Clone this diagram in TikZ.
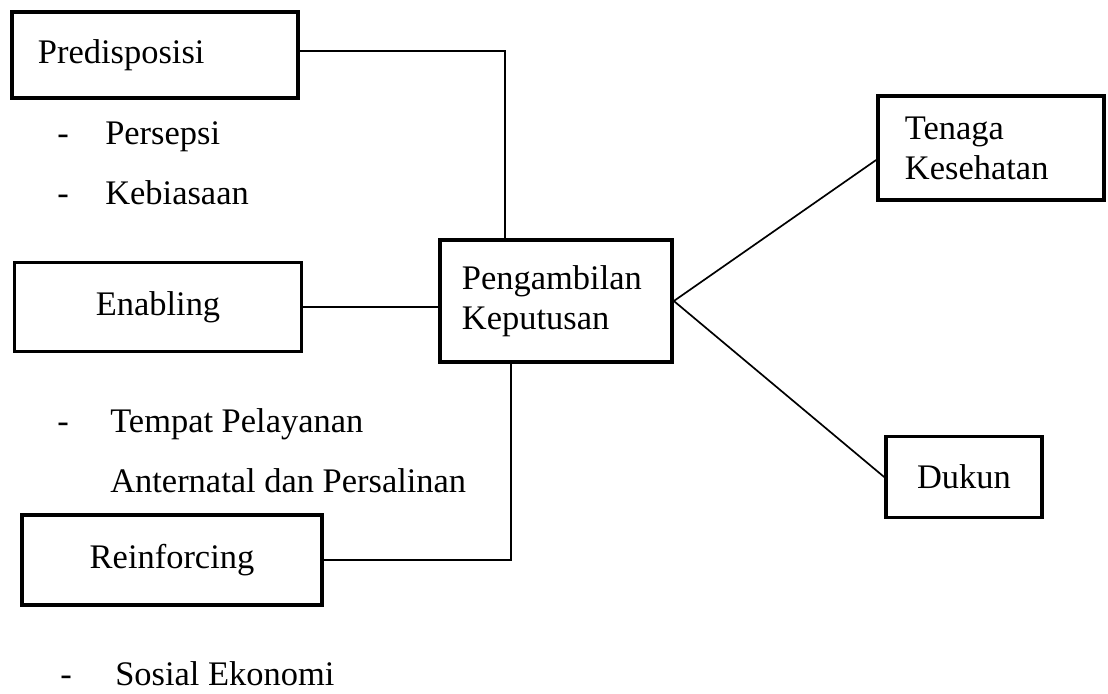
\documentclass[tikz,border=0pt]{standalone}
\usepackage{fontspec}
\setmainfont{Liberation Serif}
\usetikzlibrary{calc}
\tikzset{
  box/.style={draw, line width=2.6pt, inner ysep=0pt, font=\fontsize{24.5}{28.5}\selectfont},
  lbl/.style={anchor=base west, inner sep=0pt, font=\fontsize{24.5}{28.5}\selectfont},
  conn/.style={line width=1.2pt}
}

\begin{document}
\begin{tikzpicture}[x=0.025cm, y=-0.025cm]
    \useasboundingbox (0,0) rectangle (1108,694);

    % LEFT: factor boxes
    \node[box, minimum width=7.15cm, minimum height=2.15cm, text width=5.85cm, inner xsep=0.65cm, align=left] (pre) at (155,55) {Predisposisi};
    \node[box, minimum width=7.18cm, minimum height=2.22cm, align=center] (enb) at (158,307) {Enabling};
    \node[box, minimum width=7.5cm, minimum height=2.25cm, align=center] (rein) at (172,560) {Reinforcing};

    % Items under the boxes
    \node[lbl] (d1) at (57,145) {-};
    \node[lbl] (i1) at (105,145) {Persepsi};
    \node[lbl] (d2) at (57,205) {-};
    \node[lbl] (i2) at (105,205) {Kebiasaan};
    \node[lbl] (d3) at (57,432) {-};
    \node[lbl] (i3) at (110,432) {Tempat Pelayanan};
    \node[lbl] (i4) at (110,492) {Anternatal dan Persalinan};
    \node[lbl] (d5) at (60,685) {-};
    \node[lbl] (i5) at (115,685) {Sosial Ekonomi};

    % CENTER: decision
    \node[box, minimum width=5.8cm, minimum height=3.05cm, text width=4.7cm, inner xsep=0.55cm, align=left] (cen) at (556,301) {Pengambilan\\Keputusan};

    % RIGHT: outcomes
    \node[box, minimum width=5.65cm, minimum height=2.6cm, text width=4.3cm, inner xsep=0.675cm, align=left] (ten) at (991,148) {Tenaga\\Kesehatan};
    \node[box, minimum width=3.9cm, minimum height=2.02cm, align=center] (duk) at (964,477) {Dukun};

    % Connectors
    \draw[conn] ([yshift=0.1cm]pre.east) -| ($(cen.north west)+(67,0)$);
    \draw[conn] (enb.east) -- (enb.east -| cen.west);
    \draw[conn] (rein.east) -| ($(cen.south west)+(73,0)$);
    \draw[conn] (cen.east) -- ([yshift=-0.3cm]ten.west);
    \draw[conn] (cen.east) -- (duk.west);
\end{tikzpicture}
\end{document}
